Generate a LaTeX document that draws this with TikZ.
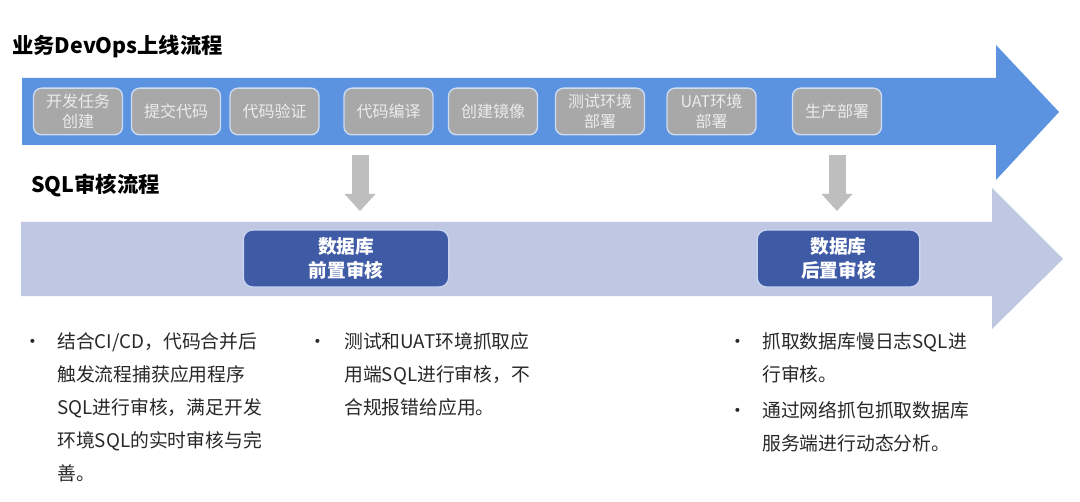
\documentclass[tikz,border=0pt]{standalone}
\usepackage{fontspec}
\setmainfont{Noto Sans CJK SC}
\usepackage{tikz}
\usetikzlibrary{arrows.meta}
\definecolor{opsblue}{RGB}{91,147,224}
\definecolor{sqllane}{RGB}{191,199,227}
\definecolor{stagegray}{RGB}{168,168,168}
\definecolor{stageedge}{RGB}{205,220,243}
\definecolor{stagetext}{RGB}{236,236,236}
\definecolor{auditblue}{RGB}{64,91,166}
\definecolor{auditedge}{RGB}{200,212,240}
\definecolor{dropgray}{RGB}{190,190,190}
\definecolor{notetext}{RGB}{40,40,40}

\begin{document}
\begin{tikzpicture}[x=0.75pt, y=-0.75pt, line join=round,
  stage/.style={rectangle, rounded corners=6pt, fill=stagegray, draw=stageedge, line width=1pt,
    minimum width=66.75pt, minimum height=35pt, inner sep=1pt, align=center,
    text=stagetext, font=\fontsize{12}{15.4}\selectfont},
  audit/.style={rectangle, rounded corners=7pt, fill=auditblue, draw=auditedge, line width=1pt,
    minimum height=42.75pt, align=center, text=white, font=\fontsize{14}{18}\selectfont\bfseries},
  drop/.style={draw=dropgray, line width=12.75pt,
    -{Triangle[width=23.25pt,length=12.75pt,line width=0pt]}},
  note/.style={anchor=north west, inner sep=0pt, align=left, text=notetext,
    font=\fontsize{14.1}{24.75}\selectfont},
  bulletmark/.style={inner sep=0pt, text=notetext, font=\fontsize{14.1}{24.75}\selectfont},
  lanetitle/.style={anchor=west, inner sep=0pt, font=\fontsize{16}{19}\selectfont\bfseries}]
  \path[use as bounding box, fill=white] (0,0) rectangle (1080,502);

  % lanes
  \fill[opsblue] (22,78) -- (996,78) -- (996,45) -- (1059,112) -- (996,180)
    -- (996,145) -- (22,145) -- cycle;
  \fill[sqllane] (21,222) -- (992,222) -- (992,188) -- (1063,259) -- (992,329)
    -- (992,296) -- (21,296) -- cycle;

  \node[lanetitle] (opstitle) at (12,47) {业务DevOps上线流程};
  \node[lanetitle] (sqltitle) at (31,185) {SQL审核流程};

  % stages of the pipeline
  \foreach \name/\x/\txt in {task/78/开发任务\\创建, commit/176/提交代码, verify/274.5/代码验证,
      build/388.5/代码编译, image/493/创建镜像, testdep/600/测试环境\\部署,
      uatdep/711.5/UAT环境\\部署, proddep/837/生产部署} {
    \node[stage] (\name) at (\x,111.5) {\txt};
  }

  % audit points
  \node[audit, minimum width=154pt] (preaudit) at (346,258.5) {数据库\\前置审核};
  \node[audit, minimum width=122pt] (postaudit) at (838.5,258.5) {数据库\\后置审核};

  \coordinate (preup) at (360,155);
  \coordinate (predown) at (360,211);
  \coordinate (postup) at (837,155);
  \coordinate (postdown) at (837,211);
  \draw[drop] (preup) -- (predown);
  \draw[drop] (postup) -- (postdown);

  % notes
  \node[bulletmark] (b1) at (33,344) {•};
  \node[note] (n1) at (57,332) {结合CI/CD，代码合并后\\触发流程捕获应用程序\\SQL进行审核，满足开发\\环境SQL的实时审核与完\\善。};
  \node[bulletmark] (b2) at (318,344) {•};
  \node[note] (n2) at (344,332) {测试和UAT环境抓取应\\用端SQL进行审核，不\\合规报错给应用。};
  \node[bulletmark] (b3) at (738,344) {•};
  \node[note] (n3) at (762,332) {抓取数据库慢日志SQL进\\行审核。};
  \node[bulletmark] (b4) at (738,413) {•};
  \node[note] (n4) at (762,401) {通过网络抓包抓取数据库\\服务端进行动态分析。};
\end{tikzpicture}
\end{document}
